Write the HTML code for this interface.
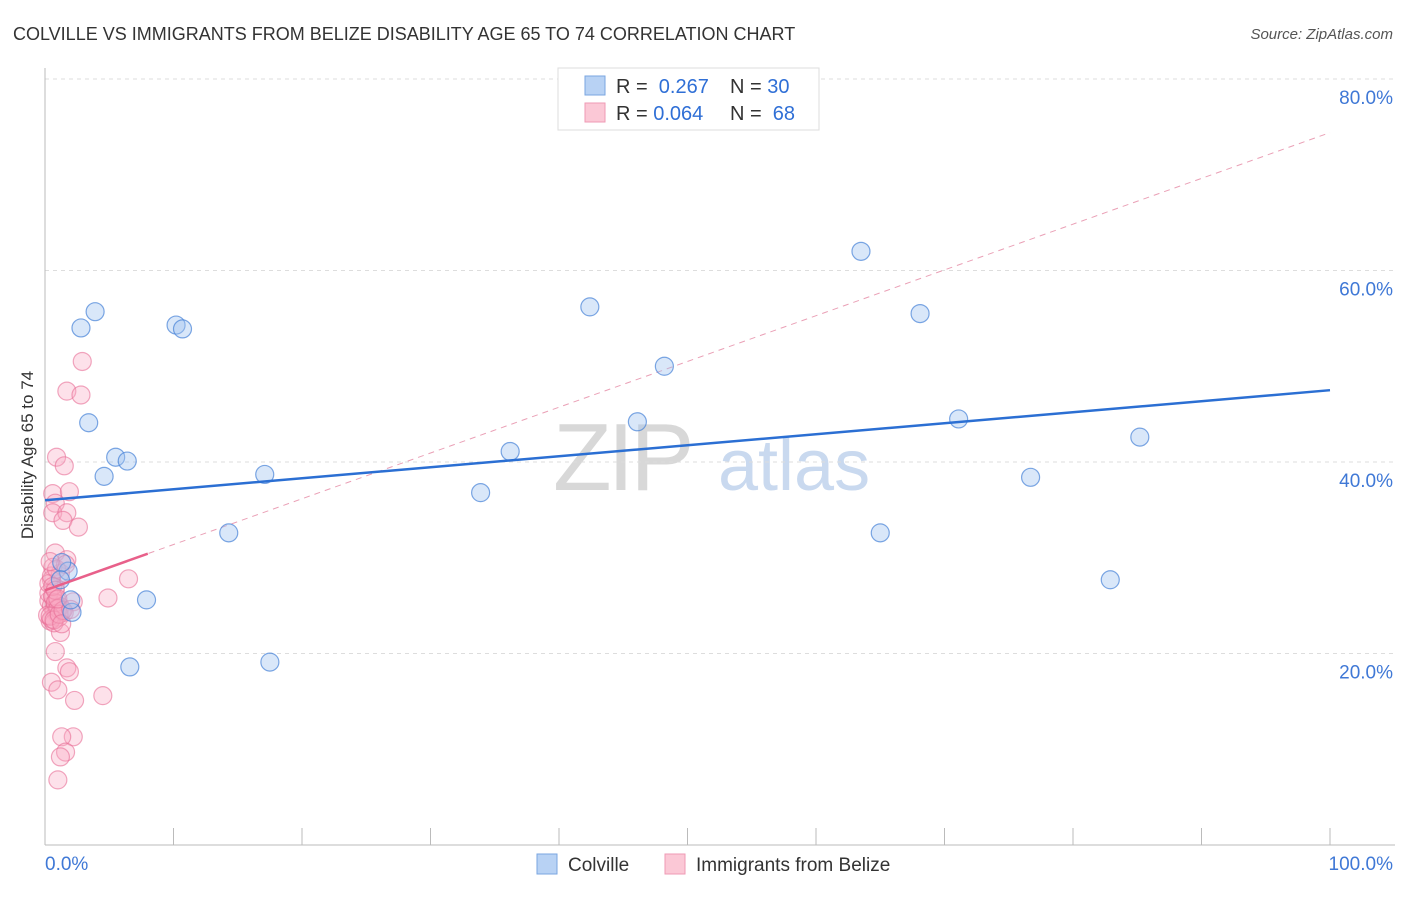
<!DOCTYPE html>
<html><head><meta charset="utf-8"><style>
body{margin:0;background:#fff;font-family:"Liberation Sans",sans-serif;}
svg text{font-family:"Liberation Sans",sans-serif;}
</style></head><body>
<svg id="chart" width="1406" height="892" xmlns="http://www.w3.org/2000/svg">
<text x="13" y="40" font-size="18" fill="#333">COLVILLE VS IMMIGRANTS FROM BELIZE DISABILITY AGE 65 TO 74 CORRELATION CHART</text>
<text x="1393" y="39" font-size="15" fill="#555" text-anchor="end" font-style="italic">Source: ZipAtlas.com</text>
<text x="553" y="490" font-size="96" fill="#d8d8d8" font-family="Liberation Serif" letter-spacing="-4">ZIP</text>
<text x="718" y="490" font-size="72" fill="#c9d9ef">atlas</text>
<g id="grid"></g>
<g id="axes"></g>
<g id="marks"></g>
<text transform="translate(33,455) rotate(-90)" font-size="17" fill="#333" text-anchor="middle">Disability Age 65 to 74</text>
<g>
<rect x="558" y="68" width="261" height="62" fill="#fff" stroke="#ddd"/>
<rect x="585" y="76" width="20" height="19" fill="#b8d2f4" stroke="#7aa6e0"/>
<rect x="585" y="103" width="20" height="19" fill="#fbc8d6" stroke="#ef9ab4"/>
<text x="616" y="93" font-size="20" fill="#333">R = <tspan fill="#2f6fd6">&#160;0.267</tspan></text>
<text x="730" y="93" font-size="20" fill="#333">N = <tspan fill="#2f6fd6">30</tspan></text>
<text x="616" y="120" font-size="20" fill="#333">R = <tspan fill="#2f6fd6">0.064</tspan></text>
<text x="730" y="120" font-size="20" fill="#333">N = <tspan fill="#2f6fd6">&#160;68</tspan></text>
</g>
<g>
<rect x="537" y="854" width="20" height="20" fill="#b8d2f4" stroke="#7aa6e0"/>
<text x="568" y="871" font-size="19" fill="#333">Colville</text>
<rect x="665" y="854" width="20" height="20" fill="#fbc8d6" stroke="#ef9ab4"/>
<text x="696" y="871" font-size="19" fill="#333">Immigrants from Belize</text>
</g>
</svg>
<script>
const yTicks=[20,40,60,80];
const xTickLabels=["0.0%","100.0%"];
const blueX=[2.8,3.9,3.4,4.6,5.5,6.4,1.8,2.1,6.6,7.9,10.2,10.7,14.3,17.1,17.5,33.9,36.2,42.4,46.1,48.2,63.5,65.0,68.1,71.1,76.7,82.9,85.2,1.3,1.2,2.0];
const blueY=[54.0,55.7,44.1,38.5,40.5,40.1,28.6,24.3,18.6,25.6,54.3,53.9,32.6,38.7,19.1,36.8,41.1,56.2,44.2,50.0,62.0,32.6,55.5,44.5,38.4,27.7,42.6,29.5,27.7,25.6];
const pinkX=[2.9,1.7,2.8,0.9,1.5,0.6,1.9,0.8,0.6,1.7,1.4,2.6,0.8,1.7,0.6,1.2,0.5,0.8,6.5,4.9,2.2,1.2,0.8,1.7,1.9,0.5,1.0,2.3,4.5,2.2,1.3,1.6,1.2,1.0,
0.3,0.5,0.7,0.9,1.1,0.4,0.6,0.8,1.0,1.3,0.2,0.5,0.7,0.9,1.2,1.5,0.3,0.6,0.8,1.0,0.4,0.7,1.1,1.4,0.3,0.5,0.9,1.6,0.6,0.8,1.0,1.3,2.0,0.4];
const pinkY=[50.5,47.4,47.0,40.5,39.6,36.7,36.9,35.7,34.7,34.7,33.9,33.2,30.5,29.8,29.0,28.4,27.7,26.9,27.8,25.8,25.4,22.2,20.2,18.5,18.1,17.0,16.2,15.1,15.6,11.3,11.3,9.7,9.2,6.8,
25.5,25.0,24.6,24.2,23.8,23.4,25.9,25.2,24.8,24.4,24.0,23.6,23.2,25.6,24.9,24.3,26.3,26.0,25.3,24.7,23.9,23.5,24.1,24.5,27.3,28.1,28.8,29.3,27.0,26.6,25.7,23.1,24.6,29.6];
const blueTrend=[36.0,47.5];
const pinkTrend=[26.6,74.4];
const pinkSolidEnd=8;
const X=v=>45+v*12.85, Y=v=>845-v*9.575;
const NS="http://www.w3.org/2000/svg";
function mk(tag,attrs,parent){const e=document.createElementNS(NS,tag);for(const k in attrs)e.setAttribute(k,attrs[k]);document.getElementById(parent).appendChild(e);return e;}
yTicks.forEach(t=>{
 const l=mk('line',{x1:45,x2:1395,y1:Y(t),y2:Y(t),stroke:'#ddd','stroke-dasharray':'4,4'},'grid');
 
 
 const tx=mk('text',{x:1393,y:Y(t)+25,'font-size':19,fill:'#3f78d6','text-anchor':'end'},'grid');
 tx.textContent=t.toFixed(1)+'%';
 
 
});
let a=mk('line',{x1:45,x2:45,y1:68,y2:845,stroke:'#bbb'},'axes');


a=mk('line',{x1:45,x2:1395,y1:845,y2:845,stroke:'#bbb'},'axes');


for(let i=0;i<=10;i++){const t=mk('line',{x1:X(i*10),x2:X(i*10),y1:828,y2:845,stroke:'#bbb'},'axes');
 
 }
let xl=mk('text',{x:45,y:870,'font-size':19,fill:'#3f78d6'},'axes');xl.textContent=xTickLabels[0];


xl=mk('text',{x:1393,y:870,'font-size':19,fill:'#3f78d6','text-anchor':'end'},'axes');xl.textContent=xTickLabels[1];


let ln=mk('line',{x1:X(0),y1:Y(pinkTrend[0]),x2:X(100),y2:Y(pinkTrend[1]),stroke:'#eaa0b6','stroke-width':1,'stroke-dasharray':'6,5'},'marks');


pinkX.forEach((x,i)=>{const c=mk('circle',{cx:X(x),cy:Y(pinkY[i]),r:9,fill:'rgba(248,170,195,0.35)',stroke:'rgba(232,110,150,0.6)','stroke-width':1.2},'marks');
 
 });
blueX.forEach((x,i)=>{const c=mk('circle',{cx:X(x),cy:Y(blueY[i]),r:9,fill:'rgba(160,195,240,0.4)',stroke:'rgba(70,130,215,0.7)','stroke-width':1.2},'marks');
 
 });
const ps=pinkTrend[0]+(pinkTrend[1]-pinkTrend[0])*pinkSolidEnd/100;
ln=mk('line',{x1:X(0),y1:Y(pinkTrend[0]),x2:X(pinkSolidEnd),y2:Y(ps),stroke:'#e8608a','stroke-width':2.5},'marks');


ln=mk('line',{x1:X(0),y1:Y(blueTrend[0]),x2:X(100),y2:Y(blueTrend[1]),stroke:'#2b6fd3','stroke-width':2.5},'marks');


</script>
</body></html>
